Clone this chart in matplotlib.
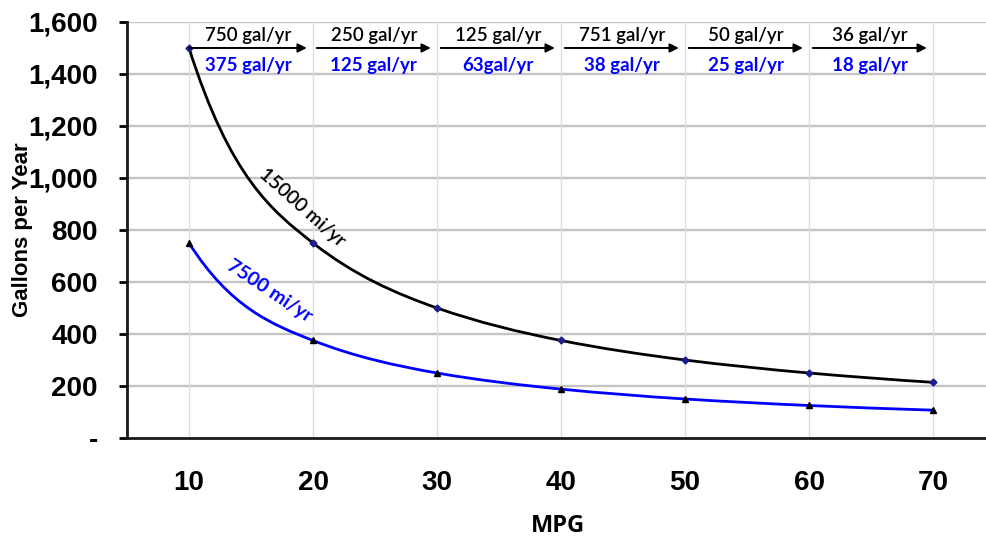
import matplotlib
matplotlib.use("Agg")
import math
import matplotlib.pyplot as plt
from matplotlib.path import Path
from matplotlib.patches import PathPatch
from matplotlib.ticker import FixedLocator, FixedFormatter

# Fuel use per year at each fuel economy
mpg = [10, 20, 30, 40, 50, 60, 70]
gal_15000 = [1500, 750, 500, 375, 300, 250, 214]
gal_7500 = [750, 375, 250, 188, 150, 125, 107]

# Savings per 10 mpg step
step_15000 = ["750 gal/yr", "250 gal/yr", "125 gal/yr", "751 gal/yr", "50 gal/yr", "36 gal/yr"]
step_7500 = ["375 gal/yr", "125 gal/yr", "63gal/yr", "38 gal/yr", "25 gal/yr", "18 gal/yr"]

y_ticks = [0, 200, 400, 600, 800, 1000, 1200, 1400, 1600]
y_tick_labels = ["-", "200", "400", "600", "800", "1,000", "1,200", "1,400", "1,600"]

ARIAL = ["Liberation Sans Narrow", "Liberation Sans", "DejaVu Sans"]


def smooth_path(xs, ys):
    """Cubic Hermite path through the points; tangents estimated from
    log-log neighbour slopes, which keeps reciprocal-shaped curves smooth."""
    n = len(xs)
    lx = [math.log(v) for v in xs]
    ly = [math.log(v) for v in ys]
    tang = []
    for i in range(n):
        a = max(i - 1, 0)
        b = min(i + 1, n - 1)
        k = (ly[b] - ly[a]) / (lx[b] - lx[a])
        tang.append(k * ys[i] / xs[i])
    verts = [(xs[0], ys[0])]
    codes = [Path.MOVETO]
    for i in range(n - 1):
        h = xs[i + 1] - xs[i]
        c1 = (xs[i] + h / 3, ys[i] + tang[i] * h / 3)
        c2 = (xs[i + 1] - h / 3, ys[i + 1] - tang[i + 1] * h / 3)
        verts += [c1, c2, (xs[i + 1], ys[i + 1])]
        codes += [Path.CURVE4] * 3
    return Path(verts, codes)


fig = plt.figure(figsize=(9.86, 5.4), dpi=100)
ax = fig.add_axes([0.1288, 0.1889, 0.8712, 0.7704])

ax.set_xlim(5, 74.27)
ax.set_ylim(0, 1600)

# Grid
for y in y_ticks[1:]:
    ax.axhline(y, color="#c4c4c4", lw=1.7, zorder=0)
for x in mpg:
    ax.axvline(x, color="#dedede", lw=1.0, zorder=0)

# Curves
ax.add_patch(PathPatch(smooth_path(mpg, gal_15000), fill=False,
                       edgecolor="black", lw=2.0, zorder=3))
ax.add_patch(PathPatch(smooth_path(mpg, gal_7500), fill=False,
                       edgecolor="#0000ff", lw=2.0, zorder=3))
ax.plot(mpg, gal_15000, ls="none", marker="D", ms=3.5, color="#1c1c8c", zorder=4)
ax.plot(mpg, gal_7500, ls="none", marker="^", ms=4.5, color="black", zorder=4)

# Curve labels
ax.text(19.1, 885, "15000 mi/yr", rotation=-41.5, ha="center", va="center",
        fontsize=14, family="Lato", fontweight="semibold", color="black",
        rotation_mode="anchor")
ax.text(16.5, 565, "7500 mi/yr", rotation=-33.5, ha="center", va="center",
        fontsize=14, family="Lato", fontweight="bold", color="#0000ff",
        rotation_mode="anchor")

# Step arrows with savings
for i in range(len(step_15000)):
    lo, hi = mpg[i], mpg[i + 1]
    x0 = lo if i == 0 else lo + 0.3
    x1 = hi - 0.5
    ax.annotate("", xy=(x1, 1500), xytext=(x0, 1500),
                arrowprops=dict(arrowstyle="-|>", color="black", lw=1.4,
                                mutation_scale=13, shrinkA=0, shrinkB=0),
                zorder=5)
    xm = (x0 + x1) / 2
    ax.annotate(step_15000[i], xy=(xm, 1500), xytext=(0, 3),
                textcoords="offset points", ha="center", va="bottom",
                fontsize=13.5, family="Lato", fontweight="semibold", color="black")
    ax.annotate(step_7500[i], xy=(xm, 1500), xytext=(0, -6.5),
                textcoords="offset points", ha="center", va="top",
                fontsize=13.5, family="Lato", fontweight="bold", color="#0000ff")

# Axes styling
for side in ("top", "right"):
    ax.spines[side].set_visible(False)
for side in ("left", "bottom"):
    ax.spines[side].set_linewidth(2)
    ax.spines[side].set_color("#1a1a1a")

ax.yaxis.set_major_locator(FixedLocator(y_ticks))
ax.yaxis.set_major_formatter(FixedFormatter(y_tick_labels))
ax.tick_params(axis="y", length=6, width=2, pad=15, labelsize=20)
ax.set_xticks(mpg)
ax.set_xticklabels([str(m) for m in mpg])
ax.tick_params(axis="x", length=0, pad=23, labelsize=20)
for lab in ax.get_xticklabels() + ax.get_yticklabels():
    lab.set_family(ARIAL)
    lab.set_fontweight("bold")

ax.set_ylabel("Gallons per Year", family=ARIAL, fontweight="bold", fontsize=16)
ax.yaxis.set_label_coords(-0.109, 0.5)
ax.set_xlabel("MPG", family=["Open Sans", "Lato"], fontweight="bold", fontsize=17)
ax.xaxis.set_label_coords(0.502, -0.182)

fig.savefig("out.png", dpi=100)
